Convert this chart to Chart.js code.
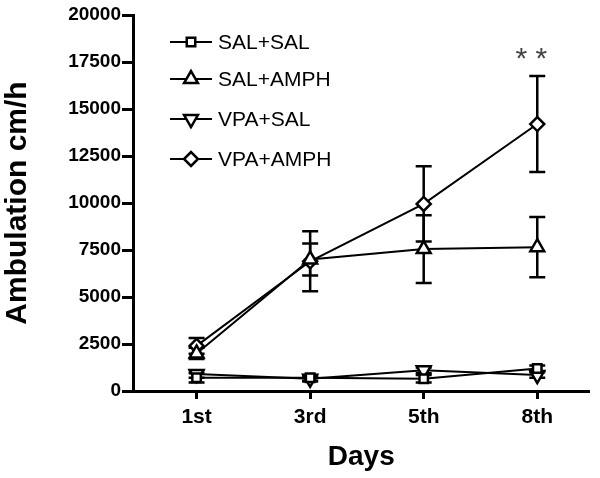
<!DOCTYPE html>
<html>
<head>
<meta charset="utf-8">
<script src="https://cdn.jsdelivr.net/npm/chart.js@4.4.1/dist/chart.umd.min.js"></script>
<style>
  html, body { margin: 0; padding: 0; background: #fff; }
  #wrap { width: 600px; height: 478px; }
</style>
</head>
<body>
<div id="wrap"><canvas id="ambulation-chart"></canvas></div>
<script>
var days = ["1st", "3rd", "5th", "8th"];
var yTicks = [0, 2500, 5000, 7500, 10000, 12500, 15000, 17500, 20000];

var salSal = [700, 700, 650, 1200];
var salSalErr = [250, 150, 200, 150];
var salAmph = [2000, 7000, 7550, 7650];
var salAmphErr = [300, 850, 1800, 1600];
var vpaSal = [900, 650, 1100, 850];
var vpaSalErr = [200, 150, 150, 150];
var vpaAmph = [2400, 6900, 9950, 14200];
var vpaAmphErr = [420, 1600, 2000, 2550];

var seriesNames = ["SAL+SAL", "SAL+AMPH", "VPA+SAL", "VPA+AMPH"];
var FONT = "'Liberation Sans', Arial, sans-serif";

function toPoints(values) {
    var pts = [];
    for (var i = 0; i < values.length; i++) {
        pts.push({ x: i, y: values[i] });
    }
    return pts;
}

function makeSet(label, values, errs, style, rotation, radius) {
    return {
        label: label,
        data: toPoints(values),
        errors: errs,
        borderColor: "#000",
        borderWidth: 2,
        backgroundColor: "#fff",
        pointStyle: style,
        rotation: rotation,
        pointRadius: radius,
        pointBorderWidth: 2.5,
        pointBackgroundColor: "#fff",
        pointBorderColor: "#000",
        tension: 0
    };
}

// error bars, drawn under the markers
var errorBars = {
    id: "errorBars",
    beforeDatasetsDraw: function (chart) {
        var ctx = chart.ctx;
        var xs = chart.scales.x, ys = chart.scales.y;
        ctx.save();
        ctx.strokeStyle = "#000";
        ctx.lineWidth = 2.5;
        chart.data.datasets.forEach(function (ds) {
            ds.data.forEach(function (p, i) {
                var e = ds.errors[i];
                var px = xs.getPixelForValue(p.x);
                var top = ys.getPixelForValue(p.y + e);
                var bot = ys.getPixelForValue(p.y - e);
                ctx.beginPath();
                ctx.moveTo(px, top); ctx.lineTo(px, bot);
                ctx.moveTo(px - 8, top); ctx.lineTo(px + 8, top);
                ctx.moveTo(px - 8, bot); ctx.lineTo(px + 8, bot);
                ctx.stroke();
            });
        });
        ctx.restore();
    }
};

// legend inside the plot + significance stars
var extras = {
    id: "extras",
    afterDatasetsDraw: function (chart) {
        var ctx = chart.ctx;
        var xs = chart.scales.x, ys = chart.scales.y;
        ctx.save();

        var rowY = [42, 79, 119, 159];
        chart.data.datasets.forEach(function (ds, i) {
            var y = rowY[i];
            ctx.strokeStyle = "#000";
            ctx.lineWidth = 2;
            ctx.beginPath();
            ctx.moveTo(170, y); ctx.lineTo(212, y);
            ctx.stroke();
            ctx.fillStyle = "#fff";
            ctx.lineWidth = 2.5;
            Chart.helpers.drawPoint(ctx, {
                pointStyle: ds.pointStyle, rotation: ds.rotation,
                radius: ds.pointRadius, borderWidth: 2.5
            }, 191, y);
            ctx.fillStyle = "#000";
            ctx.font = "21px " + FONT;
            ctx.textBaseline = "middle";
            ctx.textAlign = "left";
            ctx.fillText(ds.label, 218, y + 1);
        });

        ctx.fillStyle = "#444";
        ctx.font = "30px " + FONT;
        ctx.textAlign = "center";
        ctx.textBaseline = "middle";
        var sx = xs.getPixelForValue(3);
        var sy = ys.getPixelForValue(vpaAmph[3] + vpaAmphErr[3]) - 16;
        ctx.fillText("* *", sx - 6, sy);
        ctx.restore();
    }
};

var ctx = document.getElementById("ambulation-chart").getContext("2d");

var myChart = new Chart(ctx, {
    type: "line",
    data: {
        datasets: [
            makeSet(seriesNames[0], salSal, salSalErr, "rect", 0, 6),
            makeSet(seriesNames[1], salAmph, salAmphErr, "triangle", 0, 8),
            makeSet(seriesNames[2], vpaSal, vpaSalErr, "triangle", 180, 8),
            makeSet(seriesNames[3], vpaAmph, vpaAmphErr, "rectRot", 0, 7)
        ]
    },
    options: {
        responsive: true,
        maintainAspectRatio: false,
        animation: false,
        events: [],
        layout: { padding: { top: 15, right: 7, bottom: 0, left: 0 } },
        plugins: {
            legend: { display: false },
            tooltip: { enabled: false }
        },
        scales: {
            x: {
                type: "linear",
                min: -0.56,
                max: 3.46,
                afterBuildTicks: function (scale) {
                    scale.ticks = days.map(function (d, i) { return { value: i }; });
                },
                afterFit: function (scale) { scale.height = 87; },
                ticks: {
                    color: "#000",
                    padding: 6,
                    font: { family: FONT, size: 21, weight: "bold" },
                    callback: function (v) { return days[v]; }
                },
                grid: {
                    drawOnChartArea: false,
                    drawTicks: true,
                    tickLength: 8,
                    tickWidth: 3,
                    tickColor: "#000"
                },
                border: { color: "#000", width: 3 },
                title: {
                    display: true,
                    text: "Days",
                    color: "#000",
                    padding: { top: 4 },
                    font: { family: FONT, size: 28, weight: "bold" }
                }
            },
            y: {
                min: 0,
                max: 20000,
                afterBuildTicks: function (scale) {
                    scale.ticks = yTicks.map(function (v) { return { value: v }; });
                },
                afterFit: function (scale) { scale.width = 133; },
                ticks: {
                    color: "#000",
                    padding: 1,
                    font: { family: FONT, size: 19, weight: "bold" },
                    callback: function (v) { return String(v); }
                },
                grid: {
                    drawOnChartArea: false,
                    drawTicks: true,
                    tickLength: 11,
                    tickWidth: 3,
                    tickColor: "#000"
                },
                border: { color: "#000", width: 3 },
                title: {
                    display: true,
                    text: "Ambulation cm/h",
                    color: "#000",
                    padding: { top: 0, bottom: 0 },
                    font: { family: FONT, size: 30, weight: "bold" }
                }
            }
        }
    },
    plugins: [errorBars, extras]
});
</script>
</body>
</html>
